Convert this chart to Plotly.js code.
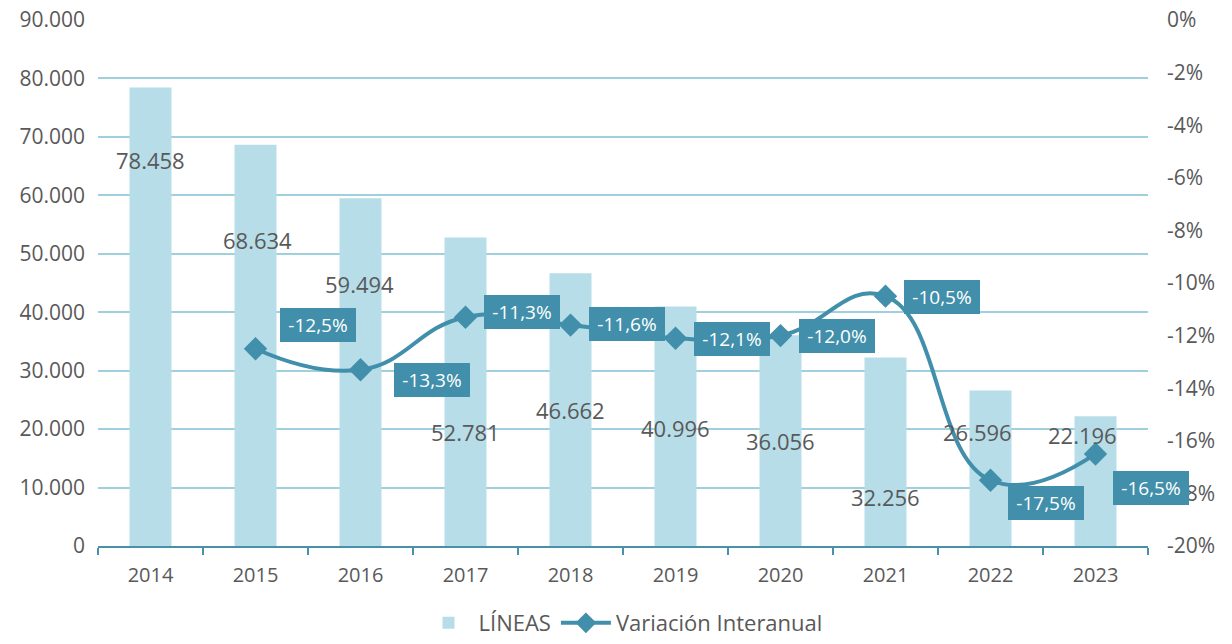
<!DOCTYPE html>
<html>
<head>
<meta charset="utf-8">
<script src="https://cdn.plot.ly/plotly-3.0.1.min.js"></script>
<style>html,body{margin:0;padding:0;background:#fff;}#chart{width:1232px;height:644px;}</style>
</head>
<body>
<div id="chart"></div>
<script>
// Data
const years = ['2014','2015','2016','2017','2018','2019','2020','2021','2022','2023'];
const lineas = [78458, 68634, 59494, 52781, 46662, 40996, 36056, 32256, 26596, 22196];
const variacion = [null, -12.5, -13.3, -11.3, -11.6, -12.1, -12.0, -10.5, -17.5, -16.5];
const pctTicks = [0, -2, -4, -6, -8, -10, -12, -14, -16, -18, -20];

// Label placement (layout only)
const barLabelY = [66000, 52400, 44800, 19500, 23300, 20200, 18000, 8400, 19500, 19000];
const barLabelXShift = [0, 2, -1, 0, 0, 0, 0, 0, -13, -13];
const varLabelXShift = [0, 62, 71, 56, 56, 56, 56, 56, 55, 55];
const varLabelYShift = [0, 24, -10, 5, 1, -1, 0, -1, -23, -34];

const FONT = 'Open Sans, Noto Sans, sans-serif';
const GREY = '#595959';
const BAR = '#b7dde8';
const TEAL = '#418fab';

const fmtThousands = v => String(v).replace(/\B(?=(\d{3})+(?!\d))/g, '.');
const fmtPct = v => v.toFixed(1).replace('.', ',') + '%';

const traces = [
  {
    type: 'bar', name: 'LÍNEAS', x: years, y: lineas,
    marker: {color: BAR}, width: 0.4, hoverinfo: 'x+y'
  },
  {
    type: 'scatter', mode: 'lines+markers', name: 'Variación Interanual',
    x: years, y: variacion, yaxis: 'y2', connectgaps: false,
    line: {color: TEAL, width: 4, shape: 'spline', smoothing: 1.3},
    marker: {symbol: 'diamond', size: 18, color: TEAL}
  }
];

const annotations = [];
years.forEach((yr, i) => {
  annotations.push({
    x: i, y: barLabelY[i], xref: 'x', yref: 'y', showarrow: false,
    xshift: barLabelXShift[i],
    text: fmtThousands(lineas[i]),
    font: {family: FONT, size: 22, color: GREY}
  });
  if (variacion[i] !== null) {
    annotations.push({
      x: i, y: variacion[i], xref: 'x', yref: 'y2', showarrow: false,
      xshift: varLabelXShift[i], yshift: varLabelYShift[i],
      text: fmtPct(variacion[i]),
      bgcolor: TEAL, borderpad: 2, borderwidth: 0, width: 72, height: 30,
      font: {family: FONT, size: 19, color: '#ffffff'}
    });
  }
});

const layout = {
  width: 1232, height: 644,
  margin: {l: 98, r: 84, t: 20, b: 98},
  paper_bgcolor: '#ffffff', plot_bgcolor: '#ffffff',
  separators: ',.',
  font: {family: FONT, color: GREY, size: 19},
  bargap: 0.6,
  showlegend: true,
  legend: {
    orientation: 'h', x: 0.5, xanchor: 'center',
    yref: 'container', y: -0.014, yanchor: 'bottom', itemwidth: 50,
    font: {family: FONT, size: 22, color: GREY}
  },
  xaxis: {
    type: 'category', range: [-0.5, 9.5], autorange: false, automargin: false,
    showgrid: false, zeroline: false,
    showline: true, linecolor: '#4a90a8', linewidth: 2,
    ticks: 'outside', tickson: 'boundaries', ticklen: 7, tickcolor: '#4a90a8', tickwidth: 2,
    tickfont: {family: FONT, size: 20, color: GREY}, ticklabelstandoff: 10
  },
  yaxis: {
    range: [0, 90000], dtick: 10000, tickformat: ',d', automargin: false,
    showgrid: true, gridcolor: '#9fd0dd', gridwidth: 2,
    zeroline: false, showline: false, ticks: '',
    tickfont: {family: FONT, size: 21, color: GREY}, ticklabelstandoff: 12
  },
  yaxis2: {
    overlaying: 'y', side: 'right', range: [-20, 0], automargin: false,
    tickmode: 'array', tickvals: pctTicks, ticktext: pctTicks.map(v => v + '%'),
    showgrid: false, zeroline: false, showline: false, ticks: '',
    tickfont: {family: FONT, size: 21, color: GREY}, ticklabelstandoff: 18
  },
  annotations: annotations
};

Plotly.newPlot('chart', traces, layout, {displayModeBar: false, staticPlot: true});
</script>
</body>
</html>
